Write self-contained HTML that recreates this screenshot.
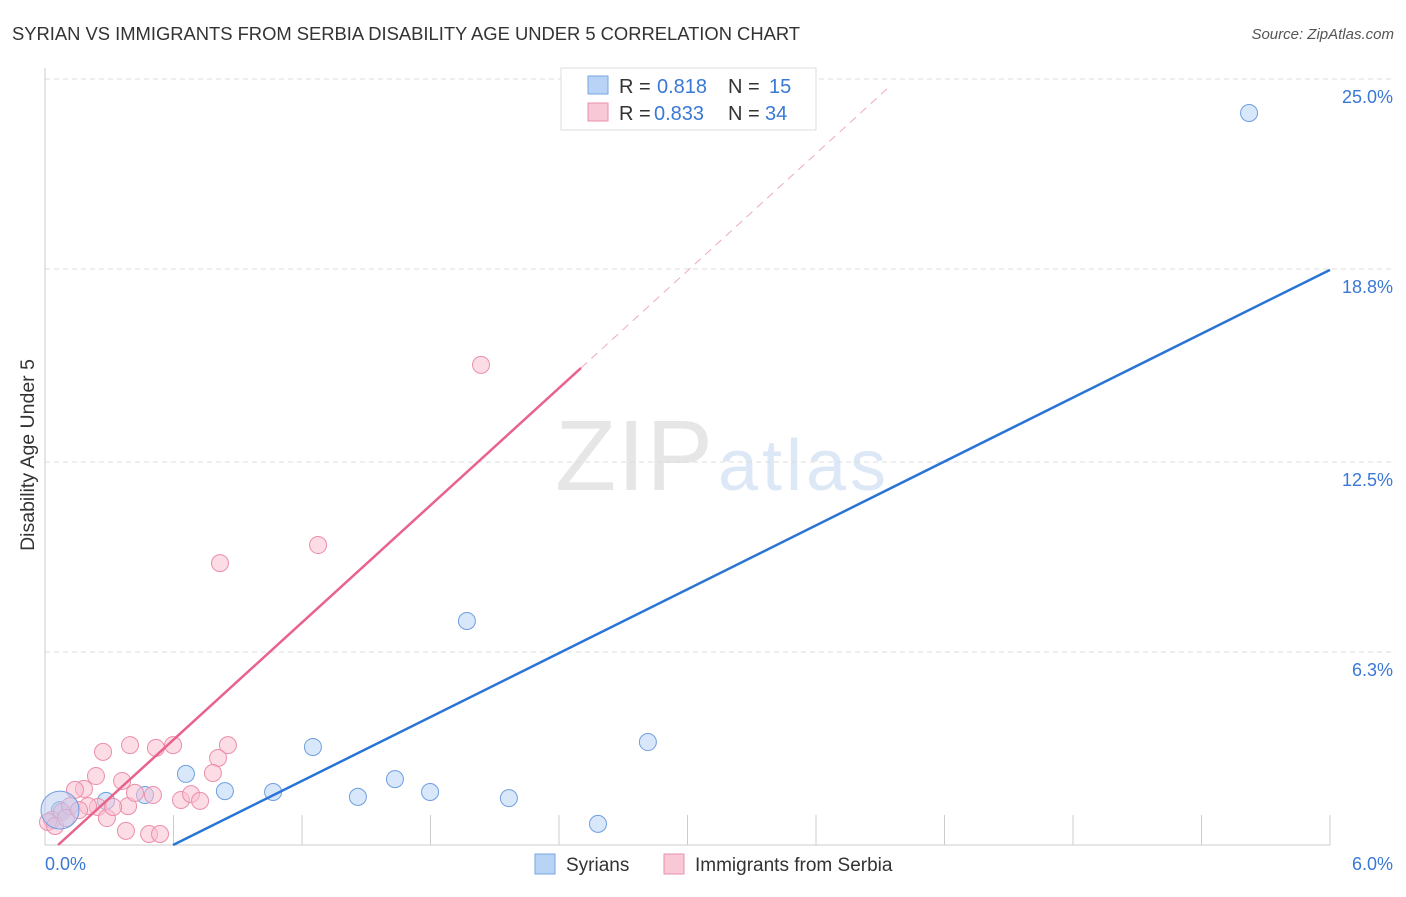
<!DOCTYPE html>
<html><head><meta charset="utf-8"><style>
body{margin:0;background:#fff;font-family:"Liberation Sans",sans-serif}
svg text{font-family:"Liberation Sans",sans-serif}
</style></head><body>
<svg id="c" width="1406" height="892" xmlns="http://www.w3.org/2000/svg">
<text x="12" y="40" font-size="18.4" fill="#333" textLength="788">SYRIAN VS IMMIGRANTS FROM SERBIA DISABILITY AGE UNDER 5 CORRELATION CHART</text>
<text x="1394" y="39" font-size="15" fill="#555" font-style="italic" text-anchor="end">Source: ZipAtlas.com</text>
<text x="555" y="490" font-size="100" fill="#e6e6e6" font-family="Liberation Serif" textLength="158">ZIP</text>
<text x="718" y="490" font-size="72" fill="#dde8f6" textLength="168">atlas</text>
<text transform="translate(34,455) rotate(-90)" font-size="19.5" fill="#333" text-anchor="middle">Disability Age Under 5</text>
<g id="grid"></g><g id="marks"></g>
<g>
<rect x="561" y="68" width="255" height="62" fill="#fff" stroke="#ddd"/>
<rect x="588" y="76" width="20" height="18" fill="#b8d3f5" stroke="#7aa7e0"/>
<text x="619" y="93" font-size="20" fill="#333">R =</text>
<text x="657" y="93" font-size="20" fill="#3a78d6">0.818</text>
<text x="728" y="93" font-size="20" fill="#333">N =</text>
<text x="769" y="93" font-size="20" fill="#3a78d6">15</text>
<rect x="588" y="103" width="20" height="18" fill="#f9c8d6" stroke="#eb8fab"/>
<text x="619" y="120" font-size="20" fill="#333">R =</text>
<text x="654" y="120" font-size="20" fill="#3a78d6">0.833</text>
<text x="728" y="120" font-size="20" fill="#333">N =</text>
<text x="765" y="120" font-size="20" fill="#3a78d6">34</text>
</g>
<g>
<rect x="535" y="854" width="20" height="20" fill="#b8d3f5" stroke="#7aa7e0"/>
<text x="566" y="871" font-size="19" fill="#333">Syrians</text>
<rect x="664" y="854" width="20" height="20" fill="#f9c8d6" stroke="#eb8fab"/>
<text x="695" y="871" font-size="19" fill="#333">Immigrants from Serbia</text>
</g>
</svg>
<script>
const yTicks=[25,18.8,12.5,6.3];
const yTickLabels=["25.0%","18.8%","12.5%","6.3%"];
const xTicks=[0.6,1.2,1.8,2.4,3.0,3.6,4.2,4.8,5.4,6.0];
const blueX=[0.07,0.285,0.467,0.658,0.84,1.065,1.251,1.461,1.634,1.798,1.97,2.166,2.582,2.815,5.622];
const blueY=[1.14,1.44,1.63,2.32,1.76,1.73,3.2,1.57,2.15,1.73,7.31,1.53,0.69,3.36,23.89];
const pinkX=[0.271,0.397,0.518,0.598,0.854,0.808,0.784,0.238,0.36,0.182,0.14,0.247,0.388,0.42,0.504,0.635,0.682,0.724,0.289,0.378,0.486,0.537,0.817,1.275,2.036,0.033,0.014,0.079,0.117,0.201,0.047,0.098,0.159,0.318];
const pinkY=[3.04,3.26,3.17,3.26,3.26,2.84,2.35,2.25,2.09,1.83,1.8,1.24,1.27,1.7,1.63,1.47,1.66,1.44,0.88,0.46,0.36,0.36,9.2,9.79,15.67,0.82,0.75,1.08,1.27,1.27,0.62,0.88,1.14,1.24];
const blueFit=[3.475,-2.078];
const pinkFit=[6.376,-0.389];
const NS="http://www.w3.org/2000/svg";
const sx=v=>45+v/6*1285, sy=v=>845-v/25*766;
function mk(t,a,p){const e=document.createElementNS(NS,t);for(const k in a)e.setAttribute(k,a[k]);p.appendChild(e);return e;}
const g=document.getElementById('grid'),m=document.getElementById('marks');
yTicks.forEach((t,i)=>{
 const l=mk('line',{x1:45,x2:1394,y1:sy(t),y2:sy(t),stroke:'#ddd','stroke-dasharray':'5,4'},g);
 
 
 const tx=mk('text',{x:1393,y:sy(t)+24,'font-size':18,fill:'#3a78d6','text-anchor':'end'},g);
 tx.textContent=yTickLabels[i];
 
 
});
xTicks.forEach(t=>{
 const l=mk('line',{x1:sx(t),x2:sx(t),y1:815,y2:845,stroke:'#ccc'},g);
 
 
});
mk('line',{x1:45,x2:45,y1:68,y2:845,stroke:'#ccc'},g);
mk('line',{x1:45,x2:1330,y1:845,y2:845,stroke:'#ccc'},g);
[["0.0%",45,"start"],["6.0%",1393,"end"]].forEach(a=>{
 const t=mk('text',{x:a[1],y:870,'font-size':18,fill:'#3a78d6','text-anchor':a[2]},g);t.textContent=a[0];
 
 
});
function pts(X,Y,f,s,name){X.forEach((x,i)=>{
 const c=mk('circle',{cx:sx(x),cy:sy(Y[i]),r:8.5,fill:f,'fill-opacity':0.55,stroke:s,'stroke-width':1},m);
 
 
});}
pts(blueX,blueY,'#b8d3f5','#6f9fe0','syrians-point');
pts(pinkX,pinkY,'#f9c0d0','#eb8fab','serbia-point');
const big=mk('circle',{cx:sx(blueX[0]),cy:sy(blueY[0]),r:19,fill:'#b8c8ef','fill-opacity':0.5,stroke:'#6f9fe0'},m);


function fit(f,x0,x1,col,name,dash){
 const l=mk('line',{x1:sx(x0),y1:sy(f[0]*x0+f[1]),x2:sx(x1),y2:sy(f[0]*x1+f[1]),stroke:col,'stroke-width':dash?1:2.5},m);
 if(dash)l.setAttribute('stroke-dasharray','8,6');
 
 
}
fit(blueFit,-blueFit[1]/blueFit[0],6,'#2a74d6','syrians-trendline');
fit(pinkFit,-pinkFit[1]/pinkFit[0],2.503,'#e8628c','serbia-trendline');
fit(pinkFit,2.503,3.95,'#f0a8bd','serbia-trendline-extension',true);
</script>
</body></html>
